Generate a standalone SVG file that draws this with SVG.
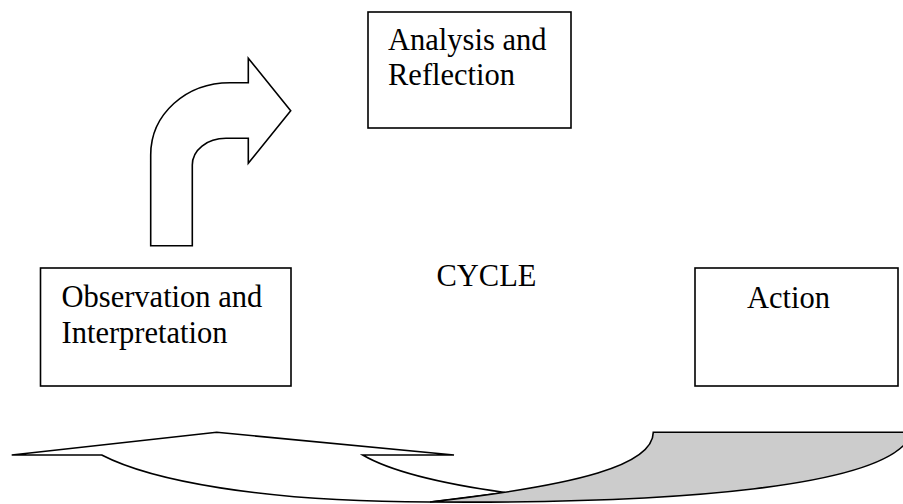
<svg xmlns="http://www.w3.org/2000/svg" width="903" height="504" viewBox="0 0 903 504">
<style>
  .box { fill: #ffffff; stroke: #000000; stroke-width: 1.6; }
  .lbl { font-family: "Liberation Serif", "Times New Roman", serif; font-size: 30.5px; fill: #000000; }
  .shape { stroke: #000000; stroke-width: 1.6; stroke-linejoin: miter; }
</style>
<rect width="903" height="504" fill="#ffffff"/>
<g id="analysis">
  <rect class="box" x="368" y="12" width="203" height="116"/>
  <text class="lbl" x="388" y="50">Analysis and</text>
  <text class="lbl" x="388" y="85">Reflection</text>
</g>
<g id="observation">
  <rect class="box" x="40.5" y="268" width="250.5" height="118"/>
  <text class="lbl" x="61.5" y="307">Observation and</text>
  <text class="lbl" x="61.5" y="342.5">Interpretation</text>
</g>
<g id="action">
  <rect class="box" x="695" y="268" width="203" height="118"/>
  <text class="lbl" x="747" y="308">Action</text>
</g>
<g id="cycle">
  <text class="lbl" x="436.5" y="286">CYCLE</text>
</g>
<g id="connectors">
  <path class="shape" fill="#ffffff" d="M150.7,245.7 V155 C150.7,114 186,82.7 230,82.7 H248.3 V58.3 L290.7,110.7 L248.3,163.3 V138.3 H226 C207,138.3 192.3,150 192.3,165 V245.7 Z"/>
  <path class="shape" fill="#ffffff" d="M11.7,455 L216.7,432.3 L454,455 H362.7 C385,468 430,482 505,492.5 L430,502 C260,502 150,480 101.7,455 Z"/>
  <path class="shape" fill="#cccccc" d="M653.3,432.3 C653,465 580,485 430,502 C700,504 868,484 905,444 L920,432.3 Z"/>
</g>
</svg>
